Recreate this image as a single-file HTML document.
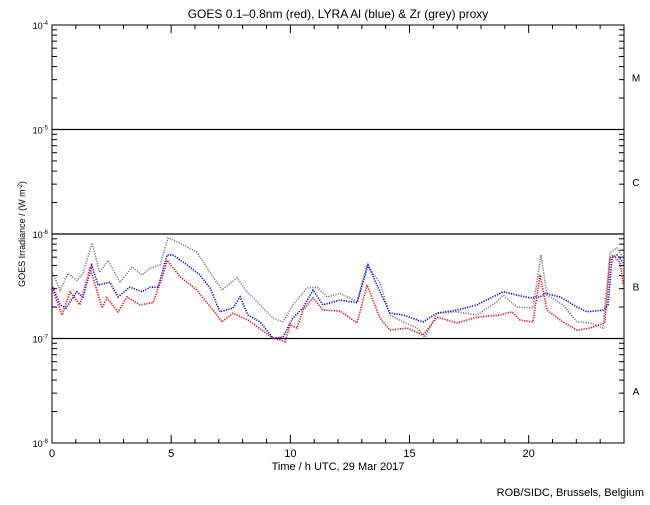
<!DOCTYPE html>
<html><head><meta charset="utf-8"><style>
body{margin:0;background:#fff}
svg text{font-family:"Liberation Sans",sans-serif;fill:#000}
</style></head><body>
<svg id="chart" width="650" height="500" viewBox="0 0 650 500" xmlns="http://www.w3.org/2000/svg">
<rect width="650" height="500" fill="#fff"/>
<text x="338" y="18" font-size="12" text-anchor="middle">GOES 0.1–0.8nm (red), LYRA Al (blue) &amp; Zr (grey) proxy</text>
<text x="338" y="470" font-size="11" text-anchor="middle">Time / h UTC, 29 Mar 2017</text>
<text transform="translate(25,234) rotate(-90)" font-size="9" text-anchor="middle">GOES Irradiance / (W m<tspan baseline-shift="super" font-size="6">-2</tspan>)</text>
<text x="644" y="496" font-size="11" text-anchor="end">ROB/SIDC, Brussels, Belgium</text>
<g id="axes"></g>
<g id="series"></g>
</svg>
<script>
const xTicks=[0,5,10,15,20];
const yDecades=[-8,-7,-6,-5,-4];
const classLabels=["A","B","C","M"];
// hours and irradiance in units of 1e-7 W/m^2
const redHours=[0.03,0.42,0.76,1.17,1.6,2.1,2.3,2.77,3.15,3.69,4.24,4.66,4.83,5.37,6.08,6.92,7.13,7.6,8.22,9.27,9.78,9.99,10.28,10.53,10.95,11.37,12.09,12.8,13.22,13.76,14.18,14.9,15.57,16.16,17.0,17.83,18.8,19.3,19.64,20.18,20.48,20.77,21.44,22.03,22.58,23.2,23.42,23.54,23.84,23.97];
const redVals=[2.9,1.68,2.8,2.1,4.7,1.96,2.45,1.8,2.5,2.1,2.2,4.05,5.6,3.9,2.9,1.68,1.44,1.75,1.5,1.01,0.93,1.35,1.26,1.87,2.45,1.87,1.83,1.41,3.25,1.57,1.2,1.26,1.08,1.6,1.41,1.6,1.68,1.8,1.5,1.44,4.05,1.87,1.44,1.2,1.26,1.41,5.9,6.3,5.3,3.25];
const blueHours=[0.03,0.34,0.59,1.04,1.3,1.67,1.93,2.43,2.77,3.27,3.78,4.11,4.45,4.83,5.08,5.67,6.21,6.63,7.05,7.6,7.89,8.22,8.73,9.27,9.69,10.11,10.53,10.95,11.37,12.09,12.8,13.26,13.76,14.18,14.73,15.57,16.16,17.0,17.83,18.93,19.51,20.06,20.48,20.69,21.32,22.03,22.45,23.12,23.33,23.5,23.71,23.97];
const blueVals=[3.1,2.1,1.96,2.8,2.5,5.0,3.25,3.45,2.5,3.1,2.8,3.1,3.1,6.3,6.3,5.05,4.05,3.05,1.8,1.96,2.5,1.68,1.44,1.01,1.03,1.57,1.96,2.9,2.1,2.33,2.2,5.05,2.8,1.75,1.68,1.44,1.75,1.87,2.1,2.8,2.6,2.45,2.5,2.7,2.5,2.0,1.8,1.87,2.1,5.9,6.3,5.3];
const greyHours=[0.03,0.34,0.67,1.05,1.3,1.68,2.0,2.35,2.85,3.36,3.78,4.11,4.53,4.87,5.37,6.08,6.63,7.13,7.76,8.18,8.73,9.27,9.69,10.11,10.7,11.12,11.54,12.09,12.8,13.22,13.76,14.18,14.73,15.32,15.65,16.16,17.0,17.83,18.67,18.93,19.51,20.18,20.52,20.77,21.44,22.03,22.58,23.12,23.42,23.71,23.97];
const greyVals=[4.2,2.9,4.2,3.6,4.2,8.2,4.3,5.6,3.45,4.85,4.05,4.7,5.05,9.2,8.2,6.7,4.3,2.9,3.8,2.8,2.1,1.57,1.44,2.1,3.05,3.1,2.5,2.7,2.25,5.05,3.4,1.68,1.44,1.26,1.03,1.75,1.8,1.68,2.25,2.6,2.0,1.96,6.3,2.6,2.1,1.44,1.41,1.26,6.7,7.35,5.9];

const NS="http://www.w3.org/2000/svg";
const X0=52,X1=624,YT=25,YB=443;
const xs=h=>X0+(X1-X0)*h/24;
const ys=l=>YB-(YB-YT)*(l+8)/4;
const yv=v=>ys(Math.log10(v*1e-7));
function mk(tag,attrs,parent){const e=document.createElementNS(NS,tag);for(const k in attrs)e.setAttribute(k,attrs[k]);parent.appendChild(e);return e;}
const ax=document.getElementById('axes');
const frame=mk('rect',{x:X0,y:YT,width:X1-X0,height:YB-YT,fill:'none',stroke:'#000','stroke-width':1},ax);


yDecades.forEach((d,i)=>{
  const y=ys(d);
  if(i>0&&i<yDecades.length-1){const g=mk('line',{x1:X0,x2:X1,y1:y,y2:y,stroke:'#000','stroke-width':1.3},ax);
    
    }
  const t=mk('text',{x:X0-4,y:y+4,'font-size':9,'text-anchor':'end'},ax);
  
  
  t.innerHTML='10<tspan dy="-4" font-size="6">'+d+'</tspan>';
  if(i<yDecades.length-1){for(let m=2;m<=9;m++){const yy=ys(d+Math.log10(m));
    mk('line',{x1:X0,x2:X0+5,y1:yy,y2:yy,stroke:'#000'},ax);
    mk('line',{x1:X1-5,x2:X1,y1:yy,y2:yy,stroke:'#000'},ax);}}
});
classLabels.forEach((c,i)=>{const t=mk('text',{x:636,y:(ys(-8+i)+ys(-7+i))/2+4,'font-size':10,'text-anchor':'middle'},ax);
  
  
  t.textContent=c;});
for(let h=1;h<24;h++){const x=xs(h);const L=h%5===0?8:4;
  mk('line',{x1:x,x2:x,y1:YB,y2:YB-L,stroke:'#000'},ax);
  mk('line',{x1:x,x2:x,y1:YT,y2:YT+L,stroke:'#000'},ax);}
xTicks.forEach(h=>{const t=mk('text',{x:xs(h),y:457,'font-size':11,'text-anchor':'middle'},ax);
  
  
  t.textContent=h;});
const sg=document.getElementById('series');
function series(hs,vs,col,name){
  const p=mk('polyline',{points:hs.map((h,i)=>xs(h)+','+yv(vs[i])).join(' '),fill:'none',stroke:col,'stroke-width':1.6,'stroke-dasharray':'1.2 1.3'},sg);
  
  
}
series(greyHours,greyVals,'#808080','zr-proxy-series');
series(blueHours,blueVals,'#0000ff','lyra-al-series');
series(redHours,redVals,'#ff0000','goes-series');
</script>
</body></html>
